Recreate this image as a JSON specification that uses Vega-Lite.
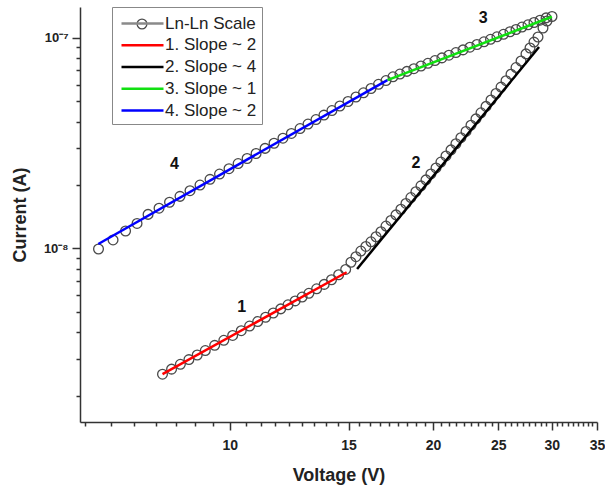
{
  "$schema": "https://vega.github.io/schema/vega-lite/v6.json",
  "width": 517,
  "height": 415,
  "autosize": {"type": "none"},
  "padding": {"left": 80, "top": 7, "right": 8, "bottom": 67},
  "background": "white",
  "datasets": {
    "pts": [
      {"V": 7.95, "I": 2.53e-9}, {"V": 8.2, "I": 2.673e-9}, {"V": 8.45, "I": 2.818e-9}, {"V": 8.7, "I": 2.967e-9},
      {"V": 8.95, "I": 3.12e-9}, {"V": 9.2, "I": 3.276e-9}, {"V": 9.5, "I": 3.467e-9}, {"V": 9.8, "I": 3.663e-9},
      {"V": 10.1, "I": 3.864e-9}, {"V": 10.4, "I": 4.07e-9}, {"V": 10.7, "I": 4.28e-9}, {"V": 11.0, "I": 4.495e-9},
      {"V": 11.3, "I": 4.714e-9}, {"V": 11.6, "I": 4.938e-9}, {"V": 11.9, "I": 5.166e-9}, {"V": 12.2, "I": 5.399e-9},
      {"V": 12.5, "I": 5.636e-9}, {"V": 12.8, "I": 5.877e-9}, {"V": 13.1, "I": 6.124e-9}, {"V": 13.45, "I": 6.43e-9},
      {"V": 13.8, "I": 6.75e-9}, {"V": 14.15, "I": 7.1e-9}, {"V": 14.5, "I": 7.5e-9}, {"V": 14.85, "I": 7.95e-9},
      {"V": 15.12, "I": 8.598e-9}, {"V": 15.38, "I": 9.14e-9}, {"V": 15.64, "I": 9.718e-9}, {"V": 15.91, "I": 1.022e-8},
      {"V": 16.19, "I": 1.075e-8}, {"V": 16.47, "I": 1.136e-8}, {"V": 16.75, "I": 1.201e-8}, {"V": 17.04, "I": 1.277e-8},
      {"V": 17.33, "I": 1.357e-8}, {"V": 17.63, "I": 1.443e-8}, {"V": 17.93, "I": 1.535e-8}, {"V": 18.24, "I": 1.635e-8},
      {"V": 18.55, "I": 1.744e-8}, {"V": 18.87, "I": 1.86e-8}, {"V": 19.2, "I": 1.982e-8}, {"V": 19.53, "I": 2.116e-8},
      {"V": 19.86, "I": 2.257e-8}, {"V": 20.21, "I": 2.41e-8}, {"V": 20.55, "I": 2.57e-8}, {"V": 20.91, "I": 2.748e-8},
      {"V": 21.27, "I": 2.937e-8}, {"V": 21.63, "I": 3.14e-8}, {"V": 22.0, "I": 3.356e-8}, {"V": 22.39, "I": 3.592e-8},
      {"V": 22.77, "I": 3.847e-8}, {"V": 23.16, "I": 4.121e-8}, {"V": 23.56, "I": 4.405e-8}, {"V": 23.97, "I": 4.724e-8},
      {"V": 24.38, "I": 5.067e-8}, {"V": 24.8, "I": 5.439e-8}, {"V": 25.23, "I": 5.833e-8}, {"V": 25.66, "I": 6.255e-8},
      {"V": 26.1, "I": 6.718e-8}, {"V": 26.55, "I": 7.219e-8}, {"V": 27.01, "I": 7.76e-8}, {"V": 27.47, "I": 8.385e-8},
      {"V": 27.85, "I": 8.941e-8}, {"V": 28.23, "I": 9.539e-8}, {"V": 28.62, "I": 1.0086e-7}, {"V": 29.11, "I": 1.113e-7},
      {"V": 29.51, "I": 1.201e-7}, {"V": 30.02, "I": 1.262e-7},
      {"V": 29.42, "I": 1.243e-7}, {"V": 28.82, "I": 1.212e-7}, {"V": 28.23, "I": 1.182e-7}, {"V": 27.66, "I": 1.152e-7},
      {"V": 27.1, "I": 1.124e-7}, {"V": 26.55, "I": 1.095e-7}, {"V": 26.01, "I": 1.068e-7}, {"V": 25.44, "I": 1.039e-7},
      {"V": 24.88, "I": 1.011e-7}, {"V": 24.34, "I": 9.835e-8}, {"V": 23.8, "I": 9.571e-8}, {"V": 23.24, "I": 9.292e-8},
      {"V": 22.69, "I": 9.022e-8}, {"V": 22.16, "I": 8.76e-8}, {"V": 21.63, "I": 8.505e-8}, {"V": 21.12, "I": 8.267e-8},
      {"V": 20.62, "I": 8.027e-8}, {"V": 20.14, "I": 7.794e-8}, {"V": 19.66, "I": 7.567e-8}, {"V": 19.2, "I": 7.347e-8},
      {"V": 18.74, "I": 7.134e-8}, {"V": 18.3, "I": 6.926e-8}, {"V": 17.87, "I": 6.725e-8}, {"V": 17.45, "I": 6.529e-8},
      {"V": 17.04, "I": 6.263e-8}, {"V": 16.61, "I": 6.015e-8}, {"V": 16.19, "I": 5.744e-8}, {"V": 15.78, "I": 5.481e-8},
      {"V": 15.38, "I": 5.235e-8}, {"V": 14.97, "I": 4.984e-8}, {"V": 14.56, "I": 4.745e-8}, {"V": 14.17, "I": 4.512e-8},
      {"V": 13.79, "I": 4.295e-8}, {"V": 13.42, "I": 4.089e-8}, {"V": 13.06, "I": 3.893e-8}, {"V": 12.71, "I": 3.706e-8},
      {"V": 12.34, "I": 3.516e-8}, {"V": 11.99, "I": 3.337e-8}, {"V": 11.63, "I": 3.157e-8}, {"V": 11.28, "I": 2.985e-8},
      {"V": 10.94, "I": 2.823e-8}, {"V": 10.61, "I": 2.673e-8}, {"V": 10.29, "I": 2.528e-8}, {"V": 9.975, "I": 2.391e-8},
      {"V": 9.657, "I": 2.254e-8}, {"V": 9.349, "I": 2.128e-8}, {"V": 9.035, "I": 1.999e-8}, {"V": 8.732, "I": 1.88e-8},
      {"V": 8.439, "I": 1.767e-8}, {"V": 8.143, "I": 1.657e-8}, {"V": 7.857, "I": 1.553e-8}, {"V": 7.568, "I": 1.451e-8},
      {"V": 7.289, "I": 1.314e-8}, {"V": 7.009, "I": 1.21e-8}, {"V": 6.716, "I": 1.097e-8}, {"V": 6.391, "I": 9.94e-9}
    ],
    "fits": [
      {"fit": "1. Slope ~ 2", "V": 7.95, "I": 2.53e-9}, {"fit": "1. Slope ~ 2", "V": 14.9, "I": 7.71e-9},
      {"fit": "2. Slope ~ 4", "V": 15.44, "I": 7.99e-9}, {"fit": "2. Slope ~ 4", "V": 28.72, "I": 9.04e-8},
      {"fit": "3. Slope ~ 1", "V": 17.12, "I": 6.3e-8}, {"fit": "3. Slope ~ 1", "V": 30.01, "I": 1.259e-7},
      {"fit": "4. Slope ~ 2", "V": 6.386, "I": 1.05e-8}, {"fit": "4. Slope ~ 2", "V": 17.12, "I": 6.3e-8}
    ],
    "labels": [
      {"t": "1", "V": 10.42, "I": 5.29e-9},
      {"t": "2", "V": 18.87, "I": 2.55e-8},
      {"t": "3", "V": 23.75, "I": 1.237e-7},
      {"t": "4", "V": 8.28, "I": 2.51e-8}
    ]
  },
  "layer": [
    {
      "data": {"name": "pts"},
      "mark": {"type": "point", "filled": false, "size": 95, "stroke": "#4a4a4a", "strokeWidth": 1.3, "opacity": 1},
      "encoding": {
        "x": {
          "field": "V", "type": "quantitative",
          "scale": {"type": "log", "domain": [6, 35], "nice": false},
          "axis": {
            "orient": "bottom", "values": [10, 15, 20, 25, 30, 35], "format": "d",
            "tickSize": 8, "labelFontSize": 14, "labelBaseline": "alphabetic", "labelPadding": 19,
            "labelFlush": false, "labelOverlap": false,
            "title": "Voltage (V)", "titleFontSize": 18, "titleY": 58, "titleBaseline": "alphabetic"
          }
        },
        "y": {
          "field": "I", "type": "quantitative",
          "scale": {"type": "log", "domain": [1.5e-9, 1.4e-7], "nice": false},
          "axis": {
            "orient": "left", "values": [1e-8, 1e-7],
            "labelExpr": "datum.value > 5e-8 ? '10⁻⁷' : '10⁻⁸'",
            "tickSize": 8, "labelFontSize": 13, "labelPadding": 4, "labelOverlap": false, "labelFlush": false,
            "title": "Current (A)", "titleFontSize": 18, "titleX": -60, "titleBaseline": "middle"
          }
        },
        "shape": {
          "datum": "Ln-Ln Scale", "type": "nominal",
          "scale": {"range": ["circle"]},
          "legend": {
            "title": null, "orient": "none", "legendX": 56, "legendY": 11, "padding": 0,
            "labelExpr": "''", "labelFontSize": 1, "labelOffset": 0, "symbolSize": 95,
            "symbolStrokeColor": "#4a4a4a", "symbolStrokeWidth": 1.3, "symbolFillColor": "white"
          }
        }
      }
    },
    {
      "data": {"name": "fits"},
      "mark": {"type": "line", "strokeWidth": 2.5},
      "encoding": {
        "x": {
          "field": "V", "type": "quantitative",
          "axis": {
            "orient": "bottom", "labels": false, "domain": false, "title": null, "tickSize": 4,
            "values": [6.111, 6.667, 7.222, 7.778, 8.333, 8.889, 9.444, 10.556, 11.111, 11.667, 12.222, 12.778, 13.333, 13.889, 14.444, 15.556, 16.111, 16.667, 17.222, 17.778, 18.333, 18.889, 19.444, 20.556, 21.111, 21.667, 22.222, 22.778, 23.333, 23.889, 24.444, 25.556, 26.111, 26.667, 27.222, 27.778, 28.333, 28.889, 29.444, 30.556, 31.111, 31.667, 32.222, 32.778, 33.333, 33.889, 34.444]
          }
        },
        "y": {
          "field": "I", "type": "quantitative",
          "axis": {
            "orient": "left", "labels": false, "domain": false, "title": null, "tickSize": 4,
            "values": [2e-9, 3e-9, 4e-9, 5e-9, 6e-9, 7e-9, 8e-9, 9e-9, 2e-8, 3e-8, 4e-8, 5e-8, 6e-8, 7e-8, 8e-8, 9e-8]
          }
        },
        "color": {
          "field": "fit", "type": "nominal",
          "scale": {
            "domain": ["Ln-Ln Scale", "1. Slope ~ 2", "2. Slope ~ 4", "3. Slope ~ 1", "4. Slope ~ 2"],
            "range": ["#8a8a8a", "#ff0000", "#000000", "#11e011", "#0000ff"]
          },
          "legend": {
            "title": null, "orient": "none", "legendX": 32, "legendY": 0,
            "symbolType": "M-2.1,0H2.1", "symbolSize": 400, "symbolStrokeWidth": 2.5, "symbolOffset": 14,
            "labelFont": "Liberation Sans", "labelFontSize": 17, "labelColor": "#222", "labelOffset": 11,
            "padding": 5, "rowPadding": 1.75, "strokeColor": "#888"
          }
        }
      }
    },
    {
      "data": {"name": "labels"},
      "mark": {"type": "text", "fontSize": 16, "fontWeight": "bold", "font": "Liberation Sans", "color": "#111", "align": "center", "baseline": "middle"},
      "encoding": {
        "x": {"field": "V", "type": "quantitative", "axis": null},
        "y": {"field": "I", "type": "quantitative", "axis": null},
        "text": {"field": "t"}
      }
    }
  ],
  "resolve": {"axis": {"x": "independent", "y": "independent"}},
  "config": {
    "view": {"stroke": null},
    "axis": {
      "grid": false, "domainColor": "#333", "domainWidth": 1.5, "tickColor": "#333", "tickWidth": 1.5,
      "labelColor": "#222", "titleColor": "#222", "labelFont": "Liberation Sans", "titleFont": "Liberation Sans",
      "labelFontWeight": "bold", "titleFontWeight": "bold"
    }
  }
}
